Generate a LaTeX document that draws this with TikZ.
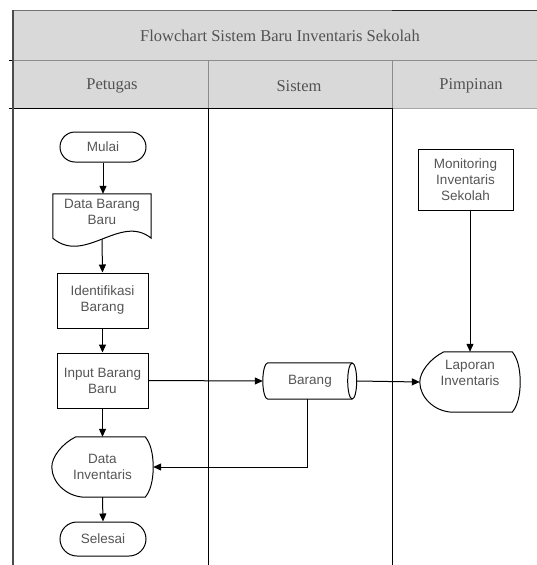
\documentclass[tikz,border=0pt]{standalone}
\usepackage{fontspec}
\setmainfont{Liberation Serif}
\setsansfont{Liberation Sans}
\usetikzlibrary{arrows.meta,calc}
\definecolor{hdrfill}{HTML}{D9D9D9}
\definecolor{txtgray}{HTML}{555555}
\newcommand\docpath[1]{%
  \draw[shapeline] ($(#1.south west)+(0,8)$) -- (#1.north west) -- (#1.north east) -- ($(#1.south east)+(0,8)$)
    .. controls ($(#1.south east)+(-31,-17)$) and ($(#1.south west)+(32,35)$) .. ($(#1.south west)+(0,8)$) -- cycle;}
\newcommand\disppath[1]{%
  \draw[shapeline] ($(#1.north west)+(24,0)$) -- ($(#1.north east)+(-8,0)$)
    .. controls ($(#1.north east)+(-3,6)$) and ($(#1.east)+(0,-14)$) .. (#1.east)
    .. controls ($(#1.east)+(0,14)$) and ($(#1.south east)+(-3,-6)$) .. ($(#1.south east)+(-8,0)$)
    -- ($(#1.south west)+(32,0)$)
    .. controls ($(#1.south west)+(14,-1)$) and ($(#1.west)+(0,15)$) .. (#1.west)
    .. controls ($(#1.west)+(0,-10)$) and ($(#1.north west)+(10,7)$) .. ($(#1.north west)+(24,0)$) -- cycle;}
\newcommand\cylpath[1]{%
  \draw[shapeline] ($(#1.north west)+(5,0)$) -- ($(#1.north east)+(-5,0)$)
    ($(#1.south east)+(-5,0)$) -- ($(#1.south west)+(5,0)$)
    .. controls ($(#1.south west)+(2.2,0)$) and ($(#1.west)+(0,9.9)$) .. (#1.west)
    .. controls ($(#1.west)+(0,-9.9)$) and ($(#1.north west)+(2.2,0)$) .. ($(#1.north west)+(5,0)$);
  \draw[shapeline] ($(#1.east)+(-5,0)$) ellipse [x radius=4.5pt, y radius=18pt];}
\begin{document}
\begin{tikzpicture}[x=1pt,y=-1pt,
  every node/.style={inner sep=0pt, align=center},
  txt/.style={font=\sffamily\fontsize{13.5}{16}\selectfont, text=txtgray},
  hdr/.style={font=\rmfamily\fontsize{16.5}{19}\selectfont, text=black!68},
  shapeline/.style={draw=black, line width=1pt},
  term/.style={txt, shapeline, rectangle, rounded corners=15pt, minimum width=86pt, minimum height=30pt},
  proc/.style={txt, shapeline, rectangle, minimum width=91pt, minimum height=55pt},
  bbox/.style={txt, rectangle, draw=none},
  conn/.style={line width=1pt, -{Triangle[length=8pt,width=7pt]}},
  lane/.style={line width=1pt, black},
]
\useasboundingbox (0,0) rectangle (537,565);
\fill[white] (0,0) rectangle (537,565);
% header
\fill[hdrfill] (13,10) rectangle (537,108);
\draw[black!55, line width=1pt] (13,10) -- (392,10);
\draw[black!85, line width=1pt] (392,10) -- (537,10);
\draw[black!45, line width=0.8pt] (13,60) -- (537,60);
\draw[black!45, line width=0.8pt] (208,60) -- (208,108) (392,60) -- (392,108);
\draw[black!35, line width=0.8pt] (392,108) -- (537,108);
\draw[lane] (9,108) -- (392,108);
\draw[lane] (9,60) -- (13,60);
\draw[lane] (208,108) -- (208,565) (392,108) -- (392,565);
\draw[black!70, line width=1.6pt] (13,10) -- (13,565);
\node[hdr] (title) at (280,36) {Flowchart Sistem Baru Inventaris Sekolah};
\node[hdr] (hpet) at (112,86) {Petugas};
\node[hdr] (hsis) at (299,86) {Sistem};
\node[hdr] (hpim) at (471,86) {Pimpinan};
% nodes
\node[term] (mulai) at (103,147) {Mulai};
\node[bbox, minimum width=98pt, minimum height=36pt] (doc) at (102,212) {Data Barang\\Baru};
\docpath{doc}
\coordinate (docb) at ($(doc.south)+(0,9)$);
\node[proc] (ident) at (102.5,300.5) {Identifikasi\\Barang};
\node[proc] (input) at (102.5,380.5) {Input Barang\\Baru};
\node[bbox, minimum width=101pt, minimum height=60pt] (dinv) at (102.5,467) {Data\\Inventaris};
\disppath{dinv}
\node[term, rounded corners=17pt, minimum height=34pt] (selesai) at (103,539) {Selesai};
\node[bbox, minimum width=94pt, minimum height=36pt] (barang) at (310,381) {Barang};
\cylpath{barang}
\node[bbox, minimum width=100pt, minimum height=60pt, text depth=18pt] (lap) at (470,382) {Laporan\\Inventaris};
\disppath{lap}
\node[proc, minimum width=95pt, minimum height=61pt] (mon) at (465.5,179.5) {Monitoring\\Inventaris\\Sekolah};
% connectors
\draw[conn] (mulai.south) -- (mulai.south |- doc.north);
\draw[conn] (docb) -- (ident.north);
\draw[conn] (ident.south) -- (input.north);
\draw[conn] (input.south) -- (dinv.north);
\draw[conn] (dinv.south) -- (selesai.north);
\draw[conn] (input.east) -- (barang.west);
\draw[conn] (barang.east) -- (lap.west);
\draw[conn] ($(barang.south)+(-3,0)$) |- (dinv.east);
\draw[conn] (lap.north |- mon.south) -- (lap.north);
\end{tikzpicture}
\end{document}
